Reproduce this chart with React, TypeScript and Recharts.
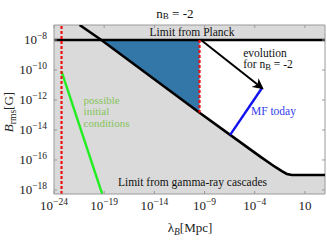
import { ComposedChart, Area, Line, XAxis, YAxis, ReferenceLine, ReferenceDot } from "recharts";

// everything lives in log10 space: x = log10(lambda_B / Mpc), y = log10(B_rms / G)
const X_DOMAIN = [-24, 3];
const Y_DOMAIN = [-18.27, -7];
const xTicks = [-24, -19, -14, -9, -4, 1];
const yTicks = [-18, -16, -14, -12, -10, -8];

// gamma-ray cascade lower limit (black curve)
const cascadeX = [-21.45, -19.28, -9.6, -6.45, -3.45, -2.0, -1.3, -0.8, -0.3, 3];
const cascadeY = [-7.0, -8.0, -12.8, -14.33, -15.78, -16.45, -16.75, -16.93, -17.0, -17.0];

const planckY = -8.0;
const causalX = -23.25; // left red dashed line
const todayX = -9.5; // right red dashed line, edge of the blue region
const blueCorner = -12.85;

const initialX = [-23.25, -19.2];
const initialY = [-10.1, -18.27];
const evolutionX = [-9.35, -3.28];
const evolutionY = [-8.0, -11.2];
const mfTodayX = [-6.45, -3.28];
const mfTodayY = [-14.33, -11.2];

const toPts = (xs: number[], ys: number[]) => xs.map((x, i) => ({ x, y: ys[i] }));

const cascadeLine = toPts(cascadeX, cascadeY);
const cascadeFill = [{ x: X_DOMAIN[0], r: [Y_DOMAIN[0], Y_DOMAIN[1]] }].concat(
  cascadeX.map((x, i) => ({ x, r: [Y_DOMAIN[0], cascadeY[i]] }))
);
const planckFill = [
  { x: X_DOMAIN[0], r: [planckY, Y_DOMAIN[1]] },
  { x: X_DOMAIN[1], r: [planckY, Y_DOMAIN[1]] },
];
const blueFill = [
  { x: cascadeX[1], r: [planckY, planckY] },
  { x: todayX, r: [blueCorner, planckY] },
];
const planckLine = toPts([X_DOMAIN[0], X_DOMAIN[1]], [planckY, planckY]);

const PLOT = { left: 54, top: 25, right: 325, bottom: 194 };
const SERIF = "Liberation Serif, Times New Roman, DejaVu Serif, serif";
const GRAY = "#dadada";
const FRAME = "#9a9a9a";

const minus = (v: number) => (v < 0 ? "\u2212" + Math.abs(v) : String(v));

function XTick({ x, y, payload }: any) {
  const v = payload.value;
  return (
    <g>
      <line x1={x} x2={x} y1={PLOT.bottom} y2={PLOT.bottom - 3} stroke={FRAME} />
      <line x1={x} x2={x} y1={PLOT.top} y2={PLOT.top + 3} stroke={FRAME} />
      <text x={x} y={y + 12} textAnchor="middle" style={{ fontFamily: SERIF }} fontSize={13} fill="#222">
        10
        {v !== 1 && (
          <tspan dy={-5} fontSize={9.5}>
            {minus(v)}
          </tspan>
        )}
      </text>
    </g>
  );
}

function YTick({ x, y, payload }: any) {
  const v = payload.value;
  return (
    <g>
      <line x1={PLOT.left} x2={PLOT.left + 3} y1={y} y2={y} stroke={FRAME} />
      <line x1={PLOT.right} x2={PLOT.right - 3} y1={y} y2={y} stroke={FRAME} />
      <text x={x} y={y + 4} textAnchor="end" style={{ fontFamily: SERIF }} fontSize={13} fill="#222">
        10
        <tspan dy={-5} fontSize={9.5}>
          {minus(v)}
        </tspan>
      </text>
    </g>
  );
}

// text placed at a data point through a reference dot
function note(key: string, x: number, y: number, body: any, opts: any = {}) {
  return (
    <ReferenceDot
      key={key}
      x={x}
      y={y}
      r={1}
      fill="none"
      stroke="none"
      ifOverflow="visible"
      label={{
        content: (p: any) => (
          <text
            x={p.viewBox.x + p.viewBox.width / 2}
            y={p.viewBox.y + p.viewBox.height / 2}
            dominantBaseline="central"
            textAnchor={opts.anchor || "middle"}
            style={{ fontFamily: SERIF }}
            fontSize={opts.size || 11.5}
            fill={opts.color || "#111"}
          >
            {body}
          </text>
        ),
      }}
    />
  );
}

export default function App() {
  return (
    <div style={{ position: "relative", width: 327, height: 246, fontFamily: SERIF }}>
      <style>{"body{margin:0}"}</style>
      <svg width={0} height={0} style={{ position: "absolute" }}>
        <defs>
          <marker id="evoArrow" viewBox="0 0 10 10" refX="8" refY="5" markerWidth="5.5" markerHeight="5.5" orient="auto">
            <path d="M0,0 L10,5 L0,10 L3,5 Z" fill="#000" />
          </marker>
        </defs>
      </svg>
      <ComposedChart width={327} height={246} margin={{ top: 25, right: 2, bottom: 22, left: 8 }}>
        <XAxis
          dataKey="x"
          type="number"
          domain={X_DOMAIN}
          ticks={xTicks}
          allowDataOverflow
          height={30}
          tickSize={0}
          tickMargin={4}
          tick={<XTick />}
          axisLine={{ stroke: FRAME }}
          label={{
            content: () => (
              <text x={190} y={232} textAnchor="middle" style={{ fontFamily: SERIF }} fontSize={13} fill="#222">
                λ
                <tspan dy={3} fontSize={9.5} fontStyle="italic">B</tspan>
                <tspan dy={-3}>[Mpc]</tspan>
              </text>
            ),
          }}
        />
        <YAxis
          type="number"
          domain={Y_DOMAIN}
          ticks={yTicks}
          allowDataOverflow
          width={46}
          tickSize={0}
          tickMargin={7}
          tick={<YTick />}
          axisLine={{ stroke: FRAME }}
          label={{
            content: () => (
              <text
                x={13}
                y={112}
                transform="rotate(-90 13 112)"
                textAnchor="middle"
                style={{ fontFamily: SERIF }}
                fontSize={13}
                fill="#222"
              >
                <tspan fontStyle="italic">B</tspan>
                <tspan dy={3} fontSize={9.5}>rms</tspan>
                <tspan dy={-3}>[G]</tspan>
              </text>
            ),
          }}
        />

        <Area data={cascadeFill} dataKey="r" type="linear" fill={GRAY} fillOpacity={1} stroke="none" isAnimationActive={false} />
        <Area data={planckFill} dataKey="r" type="linear" fill={GRAY} fillOpacity={1} stroke="none" isAnimationActive={false} />
        <Area data={blueFill} dataKey="r" type="linear" fill="#3277a8" fillOpacity={1} stroke="none" isAnimationActive={false} />

        <ReferenceLine y={Y_DOMAIN[1]} stroke={FRAME} />
        <ReferenceLine x={X_DOMAIN[1]} stroke={FRAME} />

        <Line data={cascadeLine} dataKey="y" type="linear" stroke="#000" strokeWidth={2.6} dot={false} isAnimationActive={false} />
        <Line data={planckLine} dataKey="y" type="linear" stroke="#000" strokeWidth={2.6} dot={false} isAnimationActive={false} />
        <Line data={toPts(initialX, initialY)} dataKey="y" type="linear" stroke="#22ee22" strokeWidth={2.4} dot={false} isAnimationActive={false} />
        <Line data={toPts(mfTodayX, mfTodayY)} dataKey="y" type="linear" stroke="#1010f0" strokeWidth={2.4} dot={false} isAnimationActive={false} />
        <Line
          data={toPts(evolutionX, evolutionY)}
          dataKey="y"
          type="linear"
          stroke="#000"
          strokeWidth={2}
          markerEnd="url(#evoArrow)"
          dot={false}
          isAnimationActive={false}
        />

        <ReferenceLine x={causalX} stroke="#ee1111" strokeWidth={2.2} strokeDasharray="3 2" />
        <ReferenceLine
          segment={[
            { x: todayX, y: planckY },
            { x: todayX, y: blueCorner },
          ]}
          stroke="#ee1111"
          strokeWidth={2.2}
          strokeDasharray="3 2"
        />

        {note("title", -11.95, -6.2, (
          <>
            n<tspan dy={3} fontSize={9}>B</tspan>
            <tspan dy={-3}> = -2</tspan>
          </>
        ), { size: 13 })}
        {note("planck", -10.25, -7.47, "Limit from Planck")}
        {note("cascade", -10.2, -17.47, "Limit from gamma-ray cascades")}
        {note("evo1", -5.15, -8.87, "evolution", { anchor: "start" })}
        {note("evo2", -5.15, -9.6, (
          <>
            for n<tspan dy={3} fontSize={8.5}>B</tspan>
            <tspan dy={-3}> = -2</tspan>
          </>
        ), { anchor: "start" })}
        {note("mf", -4.38, -12.73, "MF today", { anchor: "start", color: "#3340ee" })}
        {note("pos1", -21.05, -12.0, "possible", { anchor: "start", color: "#86c45a", size: 11 })}
        {note("pos2", -21.05, -12.73, "initial", { anchor: "start", color: "#86c45a", size: 11 })}
        {note("pos3", -21.05, -13.53, "conditions", { anchor: "start", color: "#86c45a", size: 11 })}
      </ComposedChart>
    </div>
  );
}
